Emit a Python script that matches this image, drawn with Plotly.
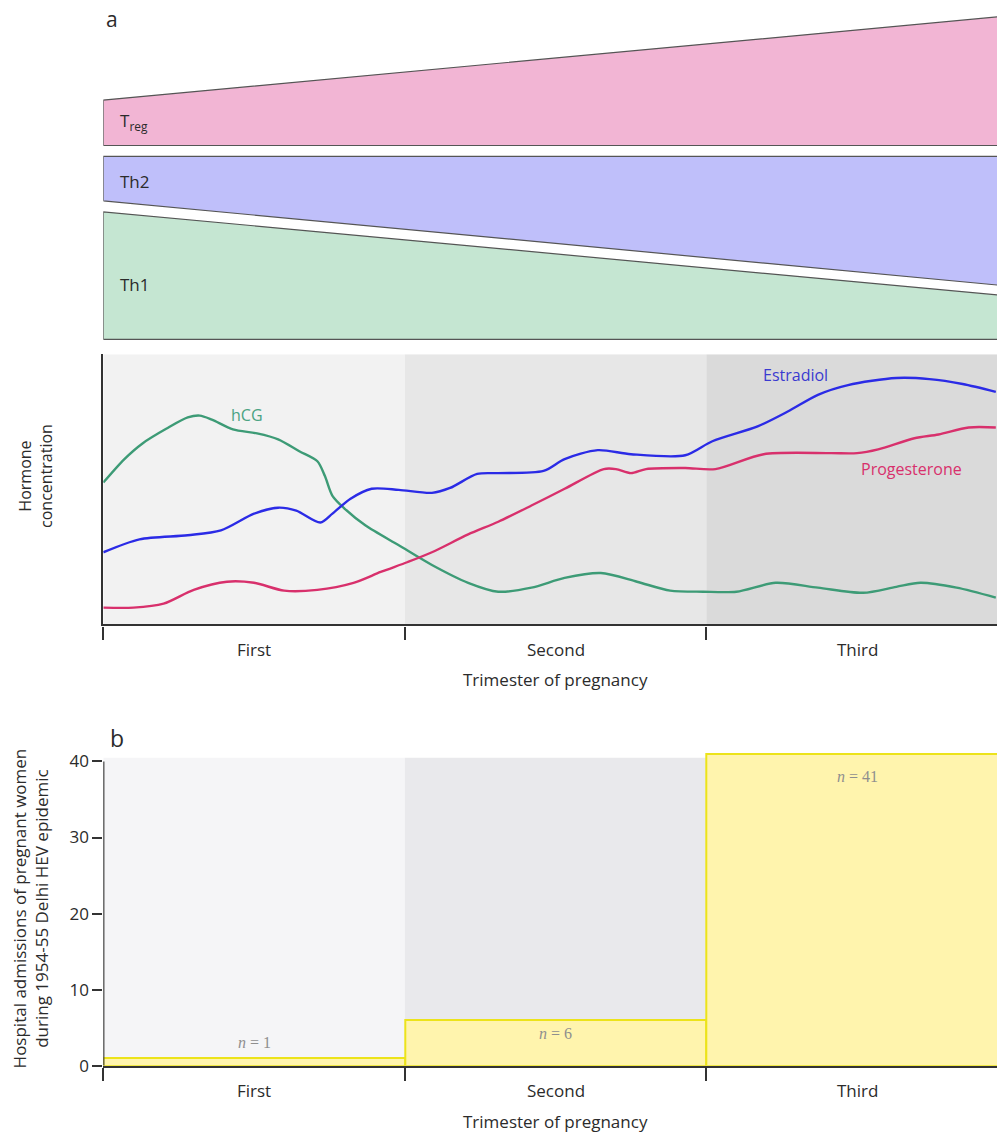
import plotly.graph_objects as go

FONT = "Open Sans"

# ---- Panel a (top): relative size of T-cell populations across pregnancy ----
cell_x = [0, 3]
treg_lower = [5.94, 5.94]
treg_upper = [7.31, 9.85]
th2_lower = [4.27, 1.70]
th2_upper = [5.61, 5.61]
th1_lower = [0.09, 0.09]
th1_upper = [3.94, 1.40]

# ---- Panel a (bottom): hormone concentration (relative units) ----
hcg_x = [0.00, 0.07, 0.13, 0.21, 0.28, 0.32, 0.36, 0.43, 0.51, 0.58, 0.65, 0.71,
         0.735, 0.76, 0.80, 0.87, 0.98, 1.09, 1.21, 1.31, 1.42, 1.53, 1.65, 1.77,
         1.88, 1.99, 2.10, 2.23, 2.37, 2.52, 2.63, 2.71, 2.83, 2.96]
hcg_y = [52.5, 61.2, 67.0, 72.5, 76.6, 77.3, 75.8, 72.2, 70.7, 68.5, 64.1, 60.4,
         54.9, 47.6, 42.9, 36.6, 29.3, 22.0, 15.4, 12.1, 13.6, 17.2, 19.0, 15.8,
         12.5, 12.1, 12.1, 15.4, 13.6, 11.7, 13.9, 15.4, 13.6, 9.9]

estradiol_x = [0.00, 0.12, 0.28, 0.39, 0.50, 0.58, 0.64, 0.72, 0.76, 0.82, 0.89,
               0.98, 1.09, 1.15, 1.24, 1.31, 1.46, 1.53, 1.64, 1.75, 1.93, 2.02,
               2.17, 2.27, 2.37, 2.47, 2.63, 2.74, 2.85, 2.96]
estradiol_y = [26.7, 31.5, 33.0, 34.8, 41.0, 43.2, 42.1, 37.7, 41.0, 46.5, 50.2,
               49.8, 48.7, 50.5, 55.7, 56.0, 56.8, 61.2, 64.5, 63.0, 62.6, 67.8,
               73.3, 78.8, 85.0, 88.6, 91.2, 90.8, 89.0, 86.1]

progesterone_x = [0.00, 0.10, 0.20, 0.30, 0.41, 0.50, 0.60, 0.71, 0.83, 0.92,
                  1.01, 1.09, 1.21, 1.31, 1.42, 1.53, 1.66, 1.70, 1.75, 1.80,
                  1.93, 2.03, 2.19, 2.41, 2.50, 2.57, 2.69, 2.77, 2.87, 2.96]
progesterone_y = [6.2, 6.2, 7.7, 12.8, 15.8, 15.4, 12.5, 12.8, 15.4, 19.4,
                  23.1, 26.7, 33.3, 38.0, 44.0, 50.2, 57.5, 57.5, 56.0, 57.5,
                  57.9, 57.5, 63.0, 63.4, 63.4, 64.8, 68.9, 70.3, 72.9, 72.9]

# ---- Panel b: hospital admissions per trimester ----
trimesters = ["First", "Second", "Third"]
trimester_mid = [0.5, 1.5, 2.5]
admissions = [1, 6, 41]

W, H = 997, 1145
X_DOMAIN = [103.3 / W, 1.0]
X_RANGE = [0, 2.964]
AXIS_COLOR = "#333333"
TEXT_COLOR = "#2b2b2b"

fig = go.Figure()


def band(lower, upper, fill, name):
    xs = cell_x + cell_x[::-1] + [cell_x[0]]
    ys = lower + upper[::-1] + [lower[0]]
    fig.add_trace(go.Scatter(x=xs, y=ys, fill="toself", fillcolor=fill,
                             mode="lines", line=dict(color="#555555", width=1.2),
                             xaxis="x", yaxis="y", name=name, hoverinfo="skip"))


band(treg_lower, treg_upper, "#f2b5d4", "Treg")
band(th2_lower, th2_upper, "#bfbffa", "Th2")
band(th1_lower, th1_upper, "#c5e6d2", "Th1")

# hormone curves
for xs, ys, col, nm in [
    (hcg_x, hcg_y, "#3d9b76", "hCG"),
    (estradiol_x, estradiol_y, "#2b2be6", "Estradiol"),
    (progesterone_x, progesterone_y, "#d8306c", "Progesterone"),
]:
    fig.add_trace(go.Scatter(x=xs, y=ys, mode="lines", name=nm,
                             line=dict(color=col, width=2.4, shape="spline", smoothing=0.8),
                             xaxis="x2", yaxis="y2", hoverinfo="skip"))

# admissions bars
fig.add_trace(go.Bar(x=trimester_mid, y=admissions, width=1.0,
                     marker=dict(color="#fff4ad", line=dict(color="#ece31a", width=2)),
                     xaxis="x3", yaxis="y3", name="Admissions", hoverinfo="skip"))

shapes = []
# trimester shading behind hormone curves
for i, col in enumerate(["#f2f2f2", "#e7e7e7", "#dadada"]):
    shapes.append(dict(type="rect", xref="x2", yref="y2", x0=i, x1=i + 1, y0=0, y1=100,
                       fillcolor=col, line=dict(width=0), layer="below"))
# trimester shading behind bars
for i, col in enumerate(["#f5f5f7", "#e9e9ec"]):
    shapes.append(dict(type="rect", xref="x3", yref="y3", x0=i, x1=i + 1, y0=0, y1=40.5,
                       fillcolor=col, line=dict(width=0), layer="below"))
# left axis line of panel b (0 to 40)
shapes.append(dict(type="line", xref="x3", yref="y3", x0=0, x1=0, y0=0, y1=40,
                   line=dict(color=AXIS_COLOR, width=2.2)))


def ann(text, x, y, xref="paper", yref="paper", size=17, color=TEXT_COLOR,
        family=FONT, xanchor="center", angle=0):
    return dict(text=text, x=x, y=y, xref=xref, yref=yref, showarrow=False,
                xanchor=xanchor, yanchor="middle", textangle=angle,
                font=dict(family=family, size=size, color=color))


def py(pixel_y):
    return 1 - pixel_y / H


annotations = [
    ann("a", 112 / W, py(18), size=21),
    ann("b", 117 / W, py(745), size=23),
    ann("T<sub>reg</sub>", 0.05, 6.65, "x", "y", xanchor="left"),
    ann("Th2", 0.05, 4.85, "x", "y", xanchor="left"),
    ann("Th1", 0.05, 1.75, "x", "y", xanchor="left"),
    ann("hCG", 0.475, 77.5, "x2", "y2", size=16, color="#4aa383"),
    ann("Estradiol", 2.295, 92.3, "x2", "y2", size=16, color="#3a3ad0"),
    ann("Progesterone", 2.68, 57.5, "x2", "y2", size=16, color="#d8306c"),
    ann("Hormone<br>concentration", 36 / W, py(480), size=16, angle=-90),
    ann("Hospital admissions of pregnant women<br>during 1954-55 Delhi HEV epidemic",
        30 / W, py(917), size=17, angle=-90),
]

# trimester labels and axis titles for both lower panels
for xa, label_px, title_px in [("x2", 655, 686), ("x3", 1101, 1132)]:
    for name, mid in zip(trimesters, trimester_mid):
        annotations.append(ann(name, mid, py(label_px), xa, "paper", size=17))
    annotations.append(ann("Trimester of pregnancy", 1.5, py(title_px), xa, "paper", size=17))

# n labels on bars
for mid, val, ypos in zip(trimester_mid, admissions, [3.0, 4.3, 38.0]):
    annotations.append(ann(f"<i>n</i> = {val}", mid, ypos, "x3", "y3", size=16,
                           color="#8f8f8f", family="Liberation Serif"))

trim_axis = dict(domain=X_DOMAIN, range=X_RANGE, showgrid=False, zeroline=False,
                 showline=True, linecolor=AXIS_COLOR, linewidth=2.4,
                 tickvals=[0, 1, 2, 3], showticklabels=False, ticks="outside",
                 ticklen=13, tickwidth=1.5, tickcolor=AXIS_COLOR, fixedrange=True)

fig.update_layout(
    width=W, height=H, autosize=False,
    margin=dict(l=0, r=0, t=0, b=0),
    paper_bgcolor="white", plot_bgcolor="rgba(0,0,0,0)",
    showlegend=False,
    font=dict(family=FONT, color=TEXT_COLOR),
    xaxis=dict(domain=X_DOMAIN, range=X_RANGE, visible=False, fixedrange=True),
    yaxis=dict(domain=[py(345), 1.0], range=[0, 10.3], visible=False, fixedrange=True),
    xaxis2=dict(trim_axis, anchor="y2"),
    yaxis2=dict(domain=[py(630), py(357)], range=[0, 100], anchor="x2",
                showgrid=False, zeroline=False, showline=True, linecolor=AXIS_COLOR,
                linewidth=2.4, showticklabels=False, ticks="", fixedrange=True),
    xaxis3=dict(trim_axis, anchor="y3"),
    yaxis3=dict(domain=[py(1076), py(757)], range=[0, 41.5], anchor="x3",
                showgrid=False, zeroline=False, showline=False,
                tickvals=[0, 10, 20, 30, 40], ticks="outside", ticklen=10, tickwidth=1.5,
                tickcolor=AXIS_COLOR, tickfont=dict(family=FONT, size=17, color=TEXT_COLOR),
                fixedrange=True),
    shapes=shapes,
    annotations=annotations,
    bargap=0,
)

# keep the page exactly the size of the figure
page_css = ("document.documentElement.style.margin='0';"
            "document.body.style.margin='0';"
            "document.body.style.overflow='hidden';")
fig.write_html("out.html", post_script=page_css)
